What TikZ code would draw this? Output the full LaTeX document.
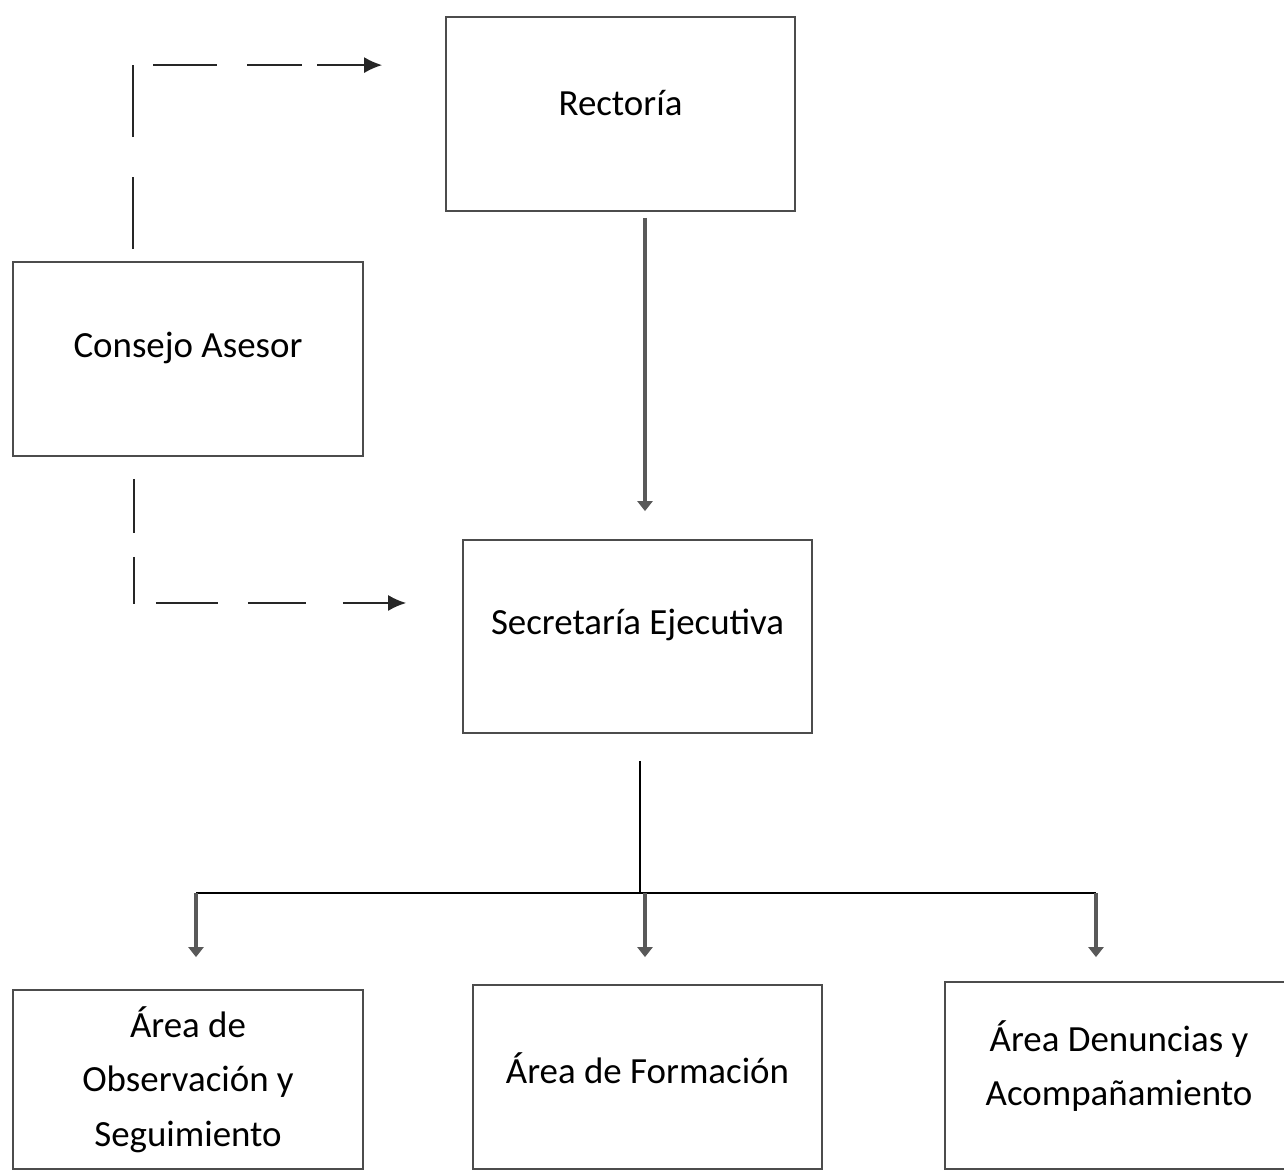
\documentclass[tikz,border=0pt]{standalone}
\usepackage{fontspec}
\setmainfont{Carlito}
\usepackage{tikz}
\usetikzlibrary{arrows.meta, calc}

\tikzset{
    unit/.style={draw=black!70, line width=1pt, minimum width=6.98cm, minimum height=3.88cm, inner sep=0pt},
    label text/.style={font=\fontsize{21}{31}\selectfont, align=center, inner sep=0pt},
    main arrow/.style={draw=black!65, line width=2.8pt, -{Triangle[length=2mm,width=3mm]}},
    advice/.style={draw=black!85, line width=1pt, -{Latex[length=3.6mm,width=3.2mm]}},
    thin link/.style={draw=black, line width=0.8pt}
}

\begin{document}
\begin{tikzpicture}
        \clip (0, 0) rectangle (25.68, 23.44);

        \node[unit] (rect) at (12.41, 21.16) {};
        \node[unit, minimum width=7cm] (cons) at (3.76, 16.26) {};
        \node[unit, minimum height=3.86cm] (secr) at (12.75, 10.71) {};

        \node[label text] (rect-t) at ([yshift=2.2mm]rect.center) {Rectoría};
        \node[label text] (cons-t) at ([yshift=2.2mm]cons.center) {Consejo Asesor};
        \node[label text] (secr-t) at ([yshift=2.4mm]secr.center) {Secretaría Ejecutiva};

        %%%

        \node[unit, minimum width=7cm, minimum height=3.58cm] (obs) at (3.76, 1.85) {};
        \node[unit, minimum height=3.68cm] (form) at (12.95, 1.9) {};
        \node[unit, minimum width=6.9cm, minimum height=3.74cm] (den) at (22.35, 1.93) {};

        \node[label text] (obs-t) at (obs.center) {Área de\\Observación y\\Seguimiento};
        \node[label text] (form-t) at ([yshift=1.8mm]form.center) {Área de Formación};
        \node[label text] (den-t) at ([yshift=1.9mm, xshift=0.3mm]den.center) {Área Denuncias y\\Acompañamiento};

        %%%

        \draw[main arrow, shorten <=1.2mm, shorten >=5.6mm] ([xshift=4.9mm]rect.south) -- ([xshift=4.9mm]rect.south |- secr.north);

        \draw[advice, shorten >=12.6mm, dash pattern=on 1.44cm off 0.8cm on 1.44cm off 0.4cm on 1.28cm off 0.6cm on 1.1cm off 0.3cm on 3cm]
            ([xshift=-11mm, yshift=2.4mm]cons.north) |- ([yshift=-9.8mm]rect.north west);
        \draw[advice, shorten >=11.2mm, dash pattern=on 1.08cm off 0.48cm on 0.94cm off 0.42cm on 1.24cm off 0.6cm on 1.16cm off 0.74cm on 3cm]
            ([xshift=-10.8mm, yshift=-4.4mm]cons.south) |- ([yshift=6.7mm]secr.west);

        %%%

        \coordinate (bus-l) at (3.92, 5.58);
        \coordinate (bus-m) at (12.9, 5.58);
        \coordinate (bus-r) at (21.92, 5.58);

        \draw[thin link, shorten <=5.4mm] ([xshift=0.5mm]secr.south) -- ([xshift=0.5mm]secr.south |- bus-m);
        \draw[thin link] (bus-l) -- (bus-r);

        \draw[main arrow, shorten >=6.4mm] (bus-l) -- (bus-l |- obs.north);
        \draw[main arrow, shorten >=5.4mm] (bus-m) -- (bus-m |- form.north);
        \draw[main arrow, shorten >=4.8mm] (bus-r) -- (bus-r |- den.north);
    \end{tikzpicture}
\end{document}
